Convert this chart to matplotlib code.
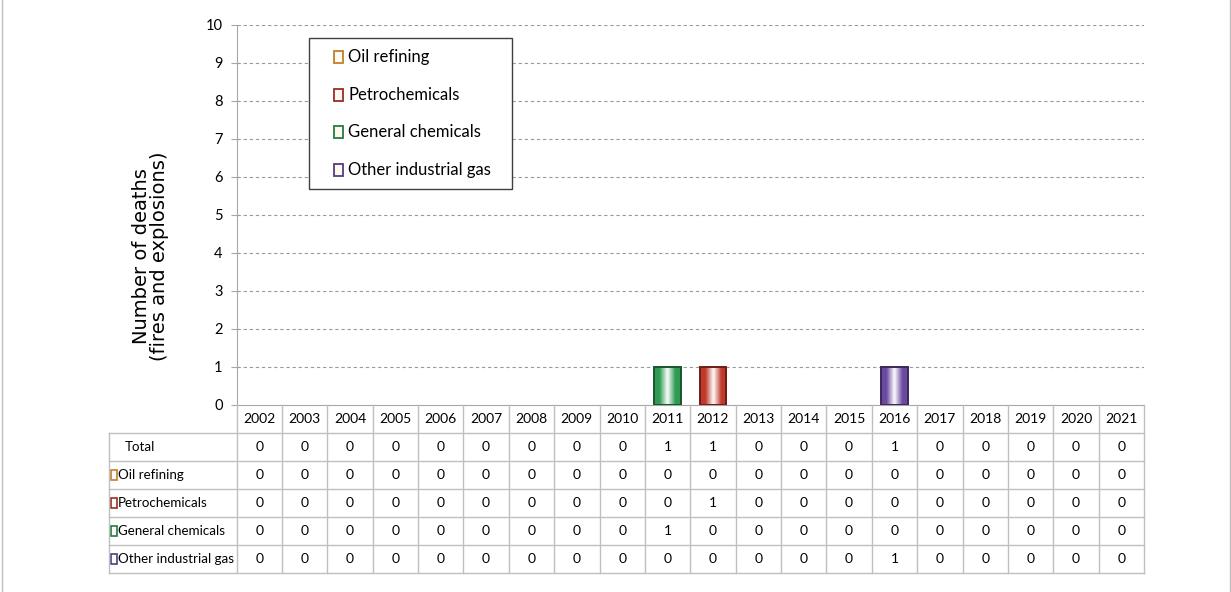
import numpy as np
import matplotlib
matplotlib.use("Agg")
import matplotlib.pyplot as plt
from matplotlib.colors import LinearSegmentedColormap, to_rgb
from matplotlib.patches import Rectangle
from matplotlib.lines import Line2D

years = [str(y) for y in range(2002, 2022)]
oil_refining = [0]*20
petrochemicals = [0,0,0,0,0,0,0,0,0,0,1,0,0,0,0,0,0,0,0,0]
general_chemicals = [0,0,0,0,0,0,0,0,0,1,0,0,0,0,0,0,0,0,0,0]
other_gas = [0,0,0,0,0,0,0,0,0,0,0,0,0,0,1,0,0,0,0,0]
series_names = ["Oil refining", "Petrochemicals", "General chemicals", "Other industrial gas"]
series_vals = [oil_refining, petrochemicals, general_chemicals, other_gas]
total = [sum(v) for v in zip(*series_vals)]
colors = ["#f0a030", "#c0392b", "#2e9a52", "#6a4aa0"]

FONT = ["Lato", "DejaVu Sans"]
W, H = 1231, 592
fig = plt.figure(figsize=(W/100, H/100), dpi=100)

def fx(px): return px / W
def fy(py): return 1 - py / H

x0, x1 = 236.5, 1144
ytop, ybot = 25, 405
ax = fig.add_axes([fx(x0), fy(ybot), fx(x1) - fx(x0), fy(ytop) - fy(ybot)])
n = len(years)
unit = (x1 - x0) / n
x = np.arange(n)
ax.set_xlim(-0.5, n - 0.5)
ax.set_ylim(0, 10)
ax.set_yticks(range(0, 11))
ax.set_yticklabels([str(i) for i in range(11)], fontsize=10.5, family=FONT)
ax.set_xticks([])
for s in ["top", "right"]:
    ax.spines[s].set_visible(False)
ax.spines["left"].set_color("#a6a6a6")
ax.spines["bottom"].set_color("#a6a6a6")
ax.tick_params(axis="y", length=4, color="#a6a6a6", pad=6)
for yv in range(1, 11):
    ax.axhline(yv, color="#9a9a9a", lw=0.8, ls=(0, (3, 2.5)), zorder=0)

bw = 0.58
bottom = np.zeros(n)
for name, vals, c in zip(series_names, series_vals, colors):
    vals = np.array(vals, dtype=float)
    bars = ax.bar(x, vals, bw, bottom=bottom, color="none", edgecolor="none", zorder=2)
    rgb = np.array(to_rgb(c))
    dark = rgb * 0.55
    cmap = LinearSegmentedColormap.from_list(name, [(0, rgb), (0.2, rgb), (0.5, (1, 1, 1)), (0.8, rgb), (1, rgb)])
    grad = np.linspace(0, 1, 64).reshape(1, -1)
    for b in bars:
        if b.get_height() <= 0:
            continue
        bx, by, bwid, bh = b.get_x(), b.get_y(), b.get_width(), b.get_height()
        ax.imshow(grad, cmap=cmap, extent=[bx, bx + bwid, by, by + bh],
                  aspect="auto", zorder=2, interpolation="bicubic")
        ax.add_patch(Rectangle((bx, by), bwid, bh, fill=False, edgecolor=dark, lw=1.4, zorder=3))
    bottom += vals
ax.set_xlim(-0.5, n - 0.5)
ax.set_ylim(0, 10)

fig.text(fx(150.5), fy(256), "Number of deaths\n(fires and explosions)", rotation=90,
         ha="center", va="center", fontsize=14, family=["DejaVu Sans"], linespacing=0.9,
         multialignment="center")

# Data table
tab_bot = 573
axt = fig.add_axes([fx(x0), fy(tab_bot), fx(x1) - fx(x0), fy(ybot) - fy(tab_bot)])
axt.set_xlim(-0.5, n - 0.5)
axt.set_ylim(6, 0)
axt.axis("off")
lc = "#bfbfbf"
lab_left = -0.5 - (x0 - 108.5) / unit
for k in range(n + 1):
    axt.add_line(Line2D([-0.5 + k, -0.5 + k], [0, 6], color=lc, lw=1, clip_on=False))
axt.add_line(Line2D([lab_left, lab_left], [1, 6], color=lc, lw=1, clip_on=False))
for r in range(1, 7):
    axt.add_line(Line2D([lab_left, n - 0.5], [r, r], color=lc, lw=1, clip_on=False))

tfs = 10
lfs = 9.6
for i, yr in enumerate(years):
    axt.text(i, 0.5, yr, ha="center", va="center", fontsize=tfs, family=FONT)
rows = [("Total", total, None)] + [(nm, v, c) for nm, v, c in zip(series_names, series_vals, colors)]
for r, (nm, vals, c) in enumerate(rows, start=1):
    for i, v in enumerate(vals):
        axt.text(i, r + 0.5, str(v), ha="center", va="center", fontsize=tfs, family=FONT)
    if c is None:
        axt.text(lab_left + 16 / unit, r + 0.5, nm, ha="left", va="center", fontsize=lfs, family=FONT)
    else:
        sx = lab_left + 2 / unit
        axt.add_patch(Rectangle((sx, r + 0.33), 6 / unit, 0.34, facecolor="#fbfbfb",
                                edgecolor=np.array(to_rgb(c)) * 0.8, lw=1.2, clip_on=False))
        axt.text(lab_left + 9.5 / unit, r + 0.5, nm, ha="left", va="center", fontsize=lfs, family=FONT)

# Legend
lx0, ly0, lx1, ly1 = 309, 38, 512, 189
fig.patches.append(Rectangle((fx(lx0), fy(ly1)), fx(lx1) - fx(lx0), fy(ly0) - fy(ly1),
                             transform=fig.transFigure, facecolor="white", edgecolor="#404040", lw=1.0, zorder=5))
for j, (nm, c) in enumerate(zip(series_names, colors)):
    yc = 57 + j * 37.7
    fig.patches.append(Rectangle((fx(334), fy(yc + 6)), fx(9), 12 / H, transform=fig.transFigure,
                                 facecolor="#fdf8f0", edgecolor=np.array(to_rgb(c)) * 0.8, lw=1.3, zorder=6))
    fig.text(fx(348), fy(yc), nm, ha="left", va="center", fontsize=12, family=FONT, zorder=7)

# outer frame lines
fig.add_artist(Line2D([fx(1.5), fx(1.5)], [0, 1], color="#bfbfbf", lw=1, transform=fig.transFigure))
fig.add_artist(Line2D([fx(1229.5), fx(1229.5)], [0, 1], color="#bfbfbf", lw=1, transform=fig.transFigure))

fig.savefig("out.png", dpi=100)
